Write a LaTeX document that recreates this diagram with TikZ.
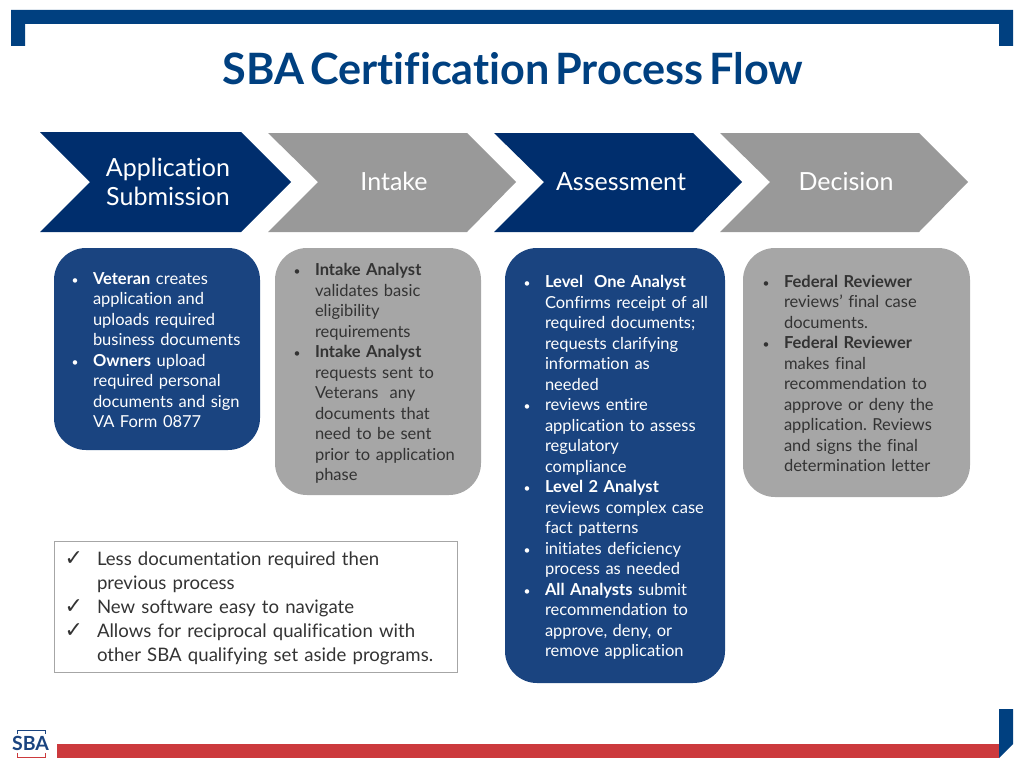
\documentclass[tikz,border=0pt]{standalone}
\usepackage{fontspec}
\setmainfont[Ligatures=NoCommon]{Lato}
\newfontfamily\symfont{DejaVu Sans}
\newfontfamily\titlefont[WordSpace=0.55,Ligatures=NoCommon]{Lato}
\frenchspacing
\definecolor{sbanavy}{HTML}{002E6D}
\definecolor{sbablue}{HTML}{1A4480}
\definecolor{sbabar}{HTML}{004080}
\definecolor{sbared}{HTML}{CC3A3D}
\definecolor{chevgray}{HTML}{999999}
\definecolor{boxgray}{HTML}{A6A6A6}
\definecolor{bodytext}{HTML}{333333}
\newcommand{\bul}{\leavevmode\llap{{\fontsize{12}{12}\selectfont\textbullet}\hspace{14.5pt}}}
\newcommand{\chk}{\leavevmode\llap{{\symfont\fontsize{22}{22}\selectfont\char"2713}\hspace{14pt}}}
\newcommand{\topgap}[1]{\leavevmode\rule{0pt}{#1}}
\tikzset{
  chevtext/.style={text=white,align=center,inner sep=0pt,font=\fontsize{25}{29}\selectfont},
  flowbox/.style 2 args={rounded corners=32pt,inner sep=0pt,align=left,minimum height=#2,
    text width=#1,font=\fontsize{16.5}{20.5}\selectfont},
  bluebox/.style={fill=sbablue,text=white},
  graybox/.style={fill=boxgray,text=bodytext},
}
\begin{document}
\begin{tikzpicture}[x=1pt,y=-1pt]
\useasboundingbox (0,0) rectangle (1024,768);
% frame
\fill[sbabar] (11,46) -- (11,10) -- (1013,10) -- (1013,46) -- (999,46) -- (999,24) -- (25,24) -- (25,46) -- cycle;
\fill[sbared] (57,744) rectangle (999,758);
\fill[sbabar] (999,709) -- (1013,709) -- (1013,744) -- (999,758) -- cycle;
\node[text=sbabar,font=\titlefont\fontsize{43.2}{50}\bfseries\selectfont,inner sep=0pt] (title) at (513,69) {SBA Certification Process Flow};
% chevrons
\fill[sbanavy] (40,132) -- (241,132) -- (291,182) -- (241,232) -- (40,232) -- (90,182) -- cycle;
\fill[chevgray] (268,133) -- (467,133) -- (516,182) -- (467,232) -- (268,232) -- (318,182) -- cycle;
\fill[sbanavy] (494,133) -- (693,133) -- (742,182) -- (693,232) -- (494,232) -- (544,182) -- cycle;
\fill[chevgray] (720,133) -- (919,133) -- (968,182) -- (919,232) -- (720,232) -- (770,182) -- cycle;
\node[chevtext] (application) at (168,182) {Application\\Submission};
\node[chevtext] (intake) at (394,181.5) {Intake};
\node[chevtext] (assessment) at (621,181.5) {Assessment};
\node[chevtext] (decision) at (846,181.5) {Decision};
% boxes
\node[flowbox={206pt}{202pt},bluebox,execute at begin node=\setlength\leftskip{39pt}] (veteran) at (157,349) {
\topgap{14pt}\bul\textbf{Veteran} creates\\
application and\\
uploads required\\
business documents\\
\bul\textbf{Owners} upload\\
required personal\\
documents and sign\\
VA Form 0877};
\node[flowbox={206pt}{247pt},graybox,execute at begin node=\setlength\leftskip{40pt}] (analyst) at (378,371.5) {
\topgap{16pt}\bul\textbf{Intake Analyst}\\
validates basic\\
eligibility\\
requirements\\
\bul\textbf{Intake Analyst}\\
requests sent to\\
Veterans\ \ any\\
documents that\\
need to be sent\\
prior to application\\
phase};
\node[flowbox={220pt}{435pt},bluebox,execute at begin node=\setlength\leftskip{40pt}] (levels) at (615,465.5) {
\topgap{16pt}\bul\textbf{Level\ \ One Analyst}\\
Confirms receipt of all\\
required documents;\\
requests clarifying\\
information as\\
needed\\
\bul reviews entire\\
application to assess\\
regulatory\\
compliance\\
\bul\textbf{Level 2 Analyst}\\
reviews complex case\\
fact patterns\\
\bul initiates deficiency\\
process as needed\\
\bul\textbf{All Analysts} submit\\
recommendation to\\
approve, deny, or\\
remove application};
\node[flowbox={227pt}{249pt},graybox,execute at begin node=\setlength\leftskip{41pt}] (reviewer) at (856.5,372.5) {
\topgap{14pt}\bul\textbf{Federal Reviewer}\\
reviews’ final case\\
documents.\\
\bul\textbf{Federal Reviewer}\\
makes final\\
recommendation to\\
approve or deny the\\
application. Reviews\\
and signs the final\\
determination letter};
% checklist
\node[draw=black!35,line width=0.9pt,inner sep=0pt,align=left,text=bodytext,text width=403pt,minimum height=131pt,
  font=\fontsize{18.6}{24}\selectfont,execute at begin node=\setlength\leftskip{43pt}] (benefits) at (255.5,606.5) {
\topgap{17pt}\chk Less documentation required then\\
previous process\\
\chk New software easy to navigate\\
\chk Allows for reciprocal qualification with\\
other SBA qualifying set aside programs.};
% logo
\draw[sbablue,line width=1pt] (17,734) -- (17,730) -- (45,730) -- (45,734);
\draw[sbared,line width=1pt] (17,753) -- (17,757) -- (45,757) -- (45,753);
\node[text=sbablue,font=\fontsize{19.5}{19.5}\bfseries\selectfont,inner sep=0pt] (sbalogo) at (30.5,743.5) {SBA};
\end{tikzpicture}
\end{document}
